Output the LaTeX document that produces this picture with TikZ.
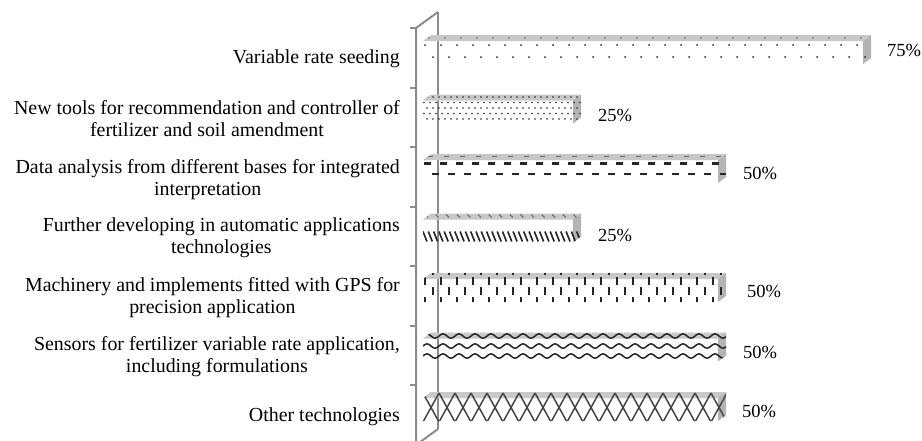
\documentclass[tikz,border=0pt]{standalone}
\usepackage{fontspec}
\setmainfont{Liberation Serif}

\definecolor{axisgray}{HTML}{8C8C8C}
\definecolor{topgray}{HTML}{C8C8C8}
\definecolor{sidegray}{HTML}{B4B4B4}
\definecolor{patink}{HTML}{262626}

\tikzset{
	axisline/.style={line width=2pt, axisgray},
	catlabel/.style={anchor=east, align=center, inner sep=0pt, font=\fontsize{19.9}{22}\selectfont},
	vallabel/.style={anchor=west, inner sep=0pt, font=\fontsize{18.5}{21.5}\selectfont},
	ink/.style={patink, line width=1.6pt},
	faceink/.style={patink!70, line width=1.2pt}
}

% 3d bar: #1 front top, #2 front right end, #3 pattern
\newcommand{\hbarbox}[3]{
	\fill[topgray] (423,#1) -- (431,{#1-6}) -- ({#2+8},{#1-6}) -- (#2,#1) -- cycle;
	\fill[sidegray] (#2,#1) -- ({#2+8},{#1-6}) -- ({#2+8},{#1+17}) -- (#2,{#1+23}) -- cycle;
	\begin{scope}
		\clip (423,#1) -- (431,{#1-6}) -- ({#2+8},{#1-6}) -- ({#2+8},{#1+17}) -- (#2,{#1+23}) -- (423,{#1+23}) -- cycle;
		#3{#1}{#2}
	\end{scope}
}

\newcommand{\patsparse}[2]{
	\foreach \i in {0,...,28} {
		\fill[patink] ({425+16*\i},{#1+4}) circle[radius=1pt];
		\fill[patink] ({433+16*\i},{#1+16}) circle[radius=1pt];
		\fill[patink!70] ({429+16*\i},{#1-3}) circle[radius=0.8pt];
	}
}

\newcommand{\patdense}[2]{
	\foreach \i in {0,...,26}
		\foreach \j in {-1,...,4}
			\fill[patink] ({424+6*\i+3*mod(\j+2,2)},{#1+2+5.5*\j}) circle[radius=0.9pt];
}

\newcommand{\patdash}[2]{
	\foreach \i in {0,...,18} {
		\draw[ink, line width=2.6pt] ({424+16*\i},{#1+3.5}) -- ++(7,0);
		\draw[ink, line width=2.6pt] ({432+16*\i},{#1+14}) -- ++(7,0);
		\draw[faceink, line width=1.6pt] ({428+16*\i},{#1-3.5}) -- ++(5,0);
	}
}

\newcommand{\patslash}[2]{
	\foreach \i in {0,...,30} {
		\draw[ink] ({423+5.3*\i},{#1+12}) -- ++(4,10);
		\draw[faceink, line width=1pt] ({425+10.6*\i},{#1-5}) -- ++(3,3);
	}
}

\newcommand{\patvdash}[2]{
	\foreach \i in {0,...,19}
		\foreach \j in {-1,0,1} {
			\draw[ink] ({425+16*\i},{#1-2+20*\j}) -- ++(0,8);
			\draw[ink] ({433+16*\i},{#1+8+20*\j}) -- ++(0,8);
		}
}

\newcommand{\patwave}[2]{
	\foreach \yc in {-2.5,7.5,17.5}
		\draw[ink, line width=1.5pt] (423,{#1+\yc}) \foreach \i in {0,...,19} { sin ++(4,-2.2) cos ++(4,2.2) sin ++(4,2.2) cos ++(4,-2.2) };
}

\newcommand{\patcross}[2]{
	\foreach \i in {0,...,19} {
		\draw[patink!85, line width=1.5pt] ({423+16*\i},{#1-5}) -- ++(16,29);
		\draw[patink!85, line width=1.5pt] ({423+16*\i},{#1+24}) -- ++(16,-29);
	}
}

\begin{document}
\begin{tikzpicture}[x=1pt, y=-1pt]
	\useasboundingbox (0,0) rectangle (922,440);
	\clip (0,0) rectangle (922,440);

	% back wall
	\draw[axisline] (438,12) -- (438,429);

	\hbarbox{41}{863}{\patsparse}
	\hbarbox{100.5}{573}{\patdense}
	\hbarbox{160}{718}{\patdash}
	\hbarbox{219.5}{573}{\patslash}
	\hbarbox{279}{718}{\patvdash}
	\hbarbox{338.5}{718}{\patwave}
	\hbarbox{398}{718}{\patcross}

	% front axis
	\draw[axisline] (438,12) -- (416,28) -- (416,445) -- (438,429);
	\foreach \k in {0,...,7}
	\draw[axisline] (410,{28+59.5*\k}) -- (416,{28+59.5*\k});

	\node[catlabel] (cat1) at (400,59) {Variable rate seeding};
	\node[catlabel] (cat2) at (400,119) {New tools for recommendation and controller of\\fertilizer and soil amendment};
	\node[catlabel] (cat3) at (400,180) {Data analysis from different bases for integrated\\interpretation};
	\node[catlabel] (cat4) at (400,238) {Further developing in automatic applications\\technologies};
	\node[catlabel] (cat5) at (400,298) {Machinery and implements fitted with GPS for\\precision application};
	\node[catlabel] (cat6) at (400,357) {Sensors for fertilizer variable rate application,\\including formulations};
	\node[catlabel] (cat7) at (400,417) {Other technologies};

	\node[vallabel] (val1) at (887,50) {75\%};
	\node[vallabel] (val2) at (598,115) {25\%};
	\node[vallabel] (val3) at (743,173) {50\%};
	\node[vallabel] (val4) at (598,235) {25\%};
	\node[vallabel] (val5) at (747,291) {50\%};
	\node[vallabel] (val6) at (743,352) {50\%};
	\node[vallabel] (val7) at (742,411) {50\%};
\end{tikzpicture}
\end{document}
